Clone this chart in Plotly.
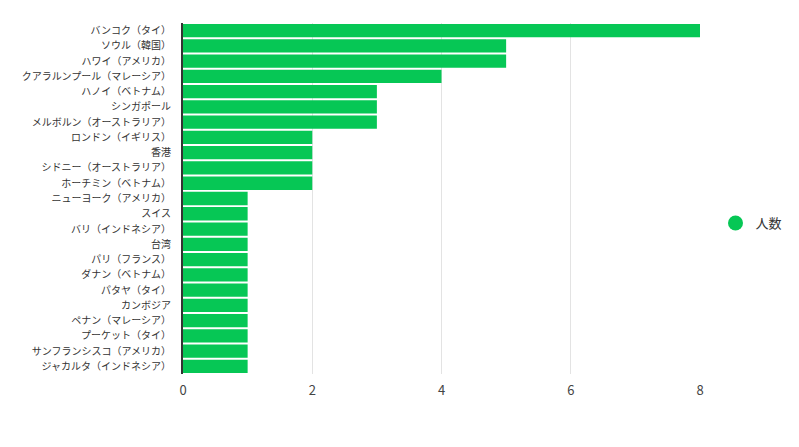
import plotly.graph_objects as go

# 行き先ごとの人数
destinations = [
    "バンコク（タイ）", "ソウル（韓国）", "ハワイ（アメリカ）", "クアラルンプール（マレーシア）",
    "ハノイ（ベトナム）", "シンガポール", "メルボルン（オーストラリア）", "ロンドン（イギリス）",
    "香港", "シドニー（オーストラリア）", "ホーチミン（ベトナム）", "ニューヨーク（アメリカ）",
    "スイス", "バリ（インドネシア）", "台湾", "パリ（フランス）", "ダナン（ベトナム）",
    "パタヤ（タイ）", "カンボジア", "ペナン（マレーシア）", "プーケット（タイ）",
    "サンフランシスコ（アメリカ）", "ジャカルタ（インドネシア）",
]
counts = [8, 5, 5, 4, 3, 3, 3, 2, 2, 2, 2, 1, 1, 1, 1, 1, 1, 1, 1, 1, 1, 1, 1]
series_name = "人数"
x_ticks = [0, 2, 4, 6, 8]

green = "#06C755"

fig = go.Figure()
fig.add_trace(go.Bar(
    x=counts, y=destinations, orientation="h",
    marker=dict(color=green, line=dict(width=0)),
    showlegend=False, name=series_name,
))
# 凡例用の丸マーカー
fig.add_trace(go.Scatter(
    x=[None], y=[None], mode="markers", name=series_name,
    marker=dict(color=green, size=15, symbol="circle"),
))

# ページ本体の余白 (8px) を差し引いた余白
fig.update_layout(
    width=799, height=447,
    margin=dict(l=175, r=107, t=15, b=81),
    paper_bgcolor="white", plot_bgcolor="white",
    font=dict(family="Noto Sans CJK JP, Noto Sans, sans-serif", color="#333333"),
    bargap=0.13,
    legend=dict(x=1.03, y=0.43, xanchor="left", yanchor="middle", itemwidth=30,
                font=dict(size=13, color="#333333"), itemsizing="trace"),
)
fig.update_xaxes(
    range=[0, 8], tickvals=x_ticks, showgrid=True, gridcolor="#e3e3e3", gridwidth=1,
    zeroline=False, tickfont=dict(size=13, color="#444444"),
    ticks="outside", ticklen=4, tickcolor="rgba(0,0,0,0)", automargin=False,
)
fig.update_yaxes(
    autorange="reversed", tickfont=dict(size=10, color="#333333"),
    showline=True, linecolor="#333333", linewidth=2, ticks="outside", ticklen=8,
    tickcolor="rgba(0,0,0,0)", automargin=False,
)

fig.write_html("out.html")
